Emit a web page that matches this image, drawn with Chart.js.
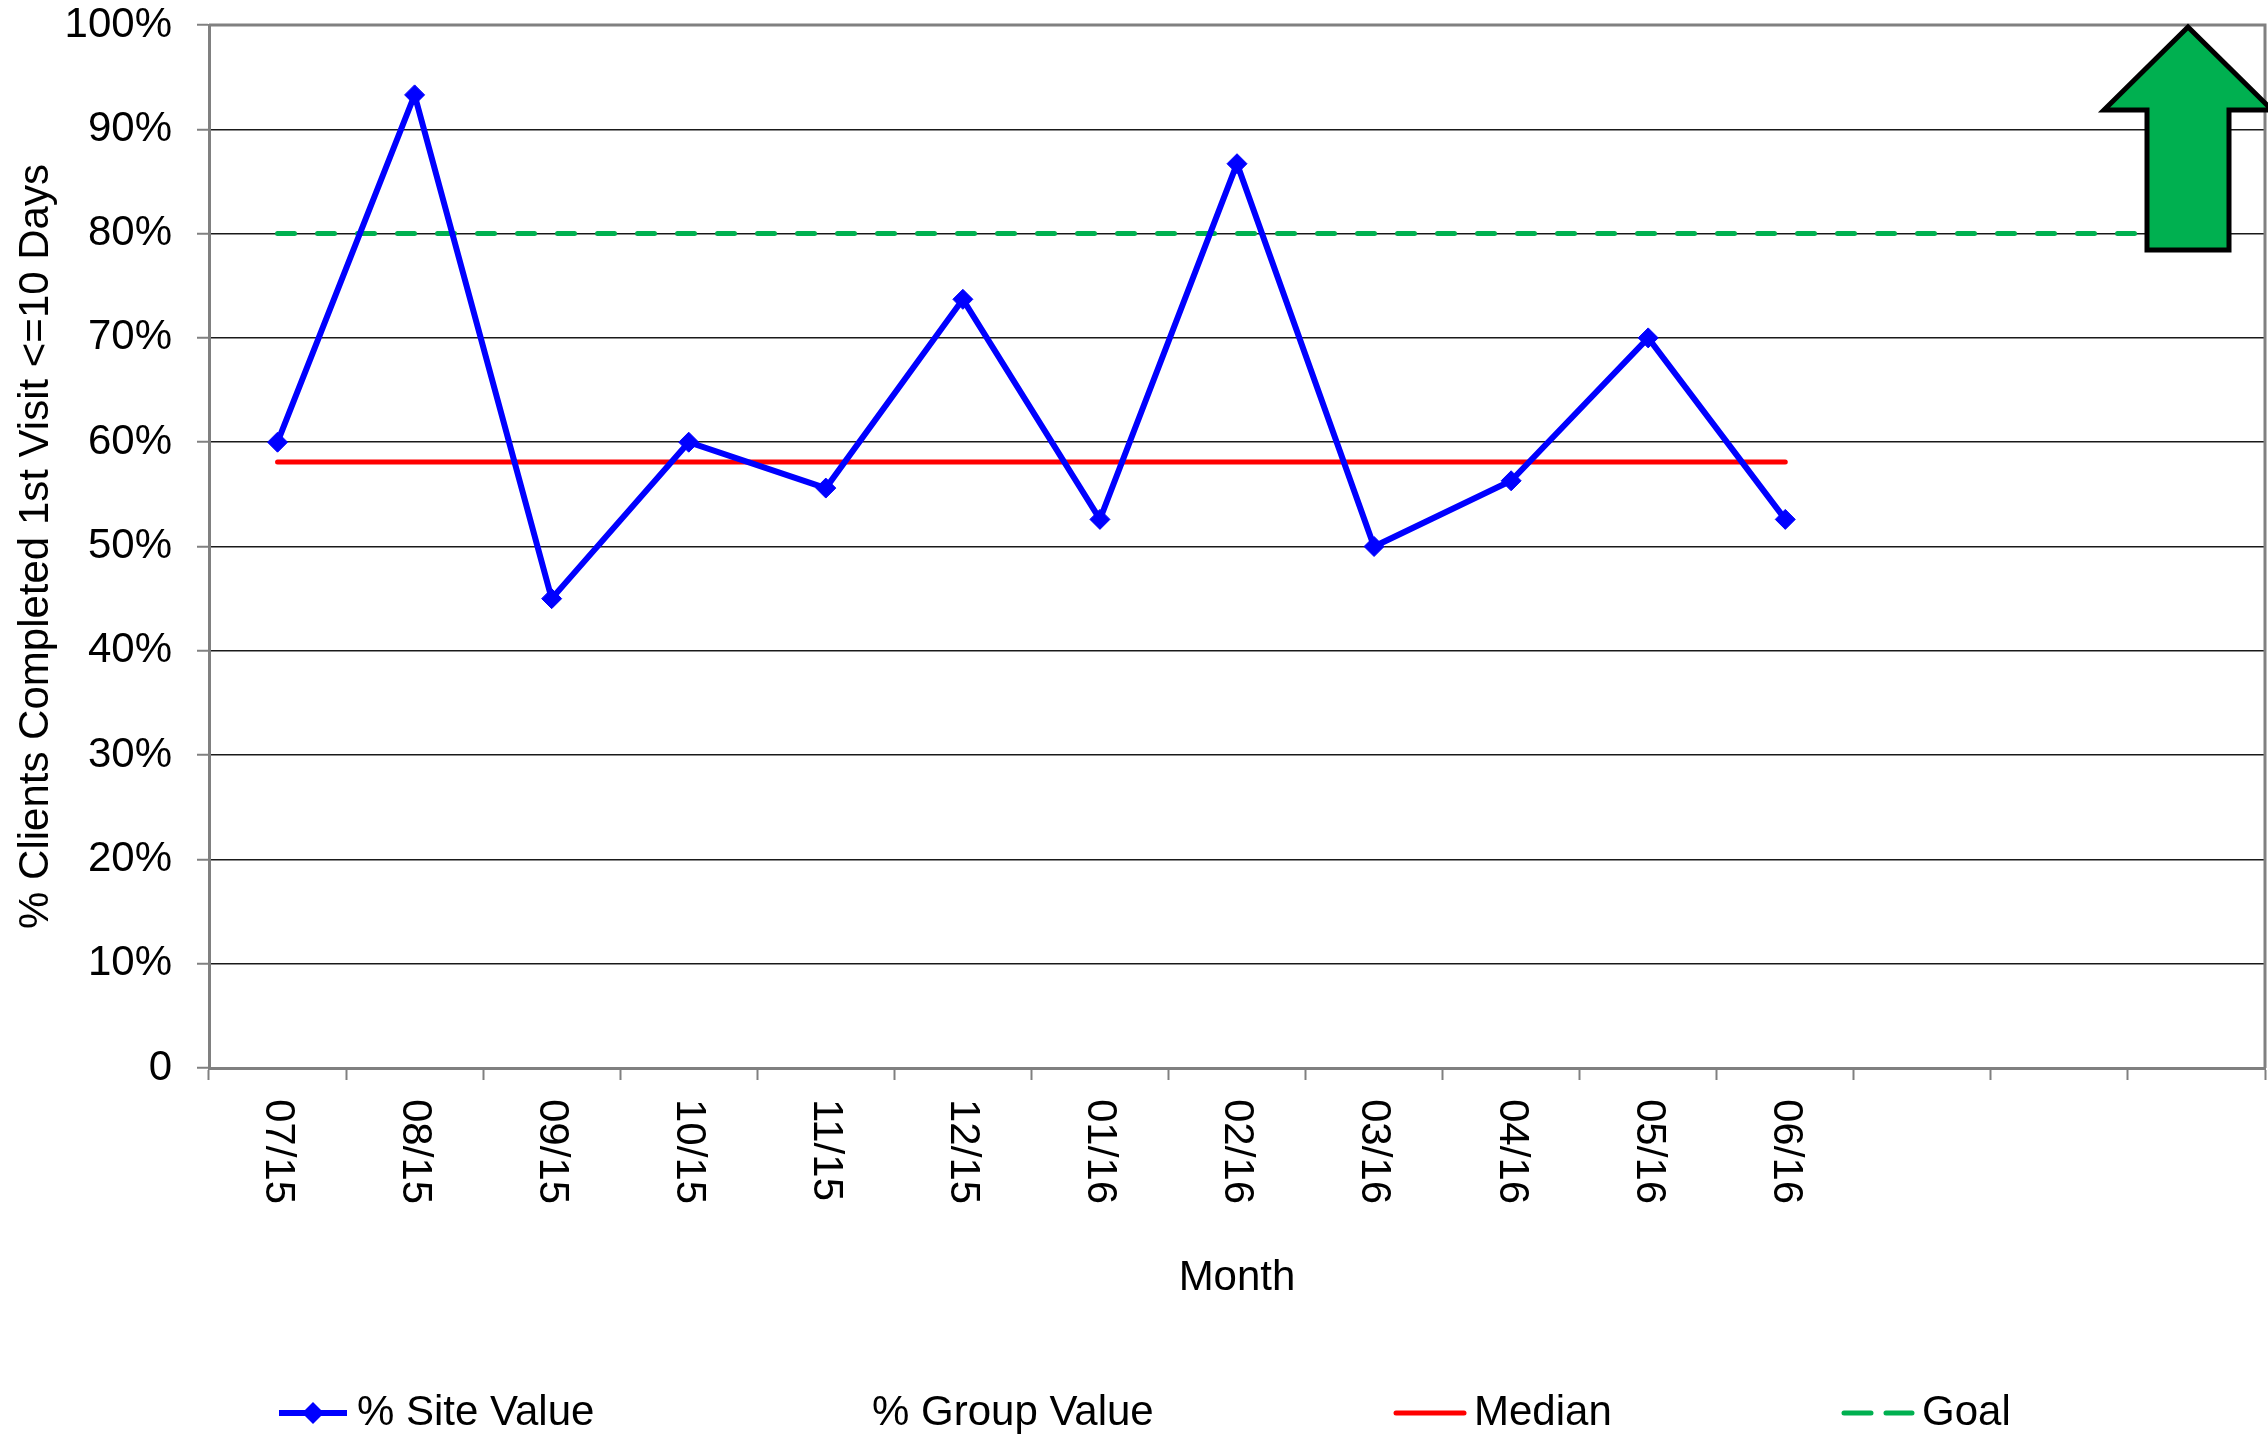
<!DOCTYPE html>
<html>
<head>
<meta charset="utf-8">
<script src="https://cdn.jsdelivr.net/npm/chart.js@4.4.0/dist/chart.umd.min.js"></script>
<style>
  html, body { margin: 0; padding: 0; background: #fff; }
  canvas { display: block; }
</style>
</head>
<body>
<canvas id="spcChart" width="2268" height="1437"></canvas>
<script>
// categories (last three slots are empty in the original)
const months = ['07/15', '08/15', '09/15', '10/15', '11/15', '12/15', '01/16', '02/16', '03/16', '04/16', '05/16', '06/16', '', '', ''];

// series values, in percent
const siteValues = [60, 93.3, 45, 60, 55.6, 73.7, 52.6, 86.7, 50, 56.3, 70, 52.6];
const groupValues = [];
const medianValues = [58.1, 58.1, 58.1, 58.1, 58.1, 58.1, 58.1, 58.1, 58.1, 58.1, 58.1, 58.1];
const goalValues = [80, 80, 80, 80, 80, 80, 80, 80, 80, 80, 80, 80, 80, 80, 80];

// y tick labels
const yTickLabels = ['0', '10%', '20%', '30%', '40%', '50%', '60%', '70%', '80%', '90%', '100%'];

const FONT = '"Liberation Sans", Arial, sans-serif';
const FSIZE = 42;

// extra drawing: frame, rotated month labels, legend, goal arrow
const decorations = {
    id: 'decorations',
    beforeDatasetsDraw(chart) {
        const { ctx, chartArea: a } = chart;
        ctx.save();
        ctx.strokeStyle = '#808080';
        ctx.lineWidth = 3;
        ctx.beginPath();
        ctx.moveTo(a.left, a.top);
        ctx.lineTo(a.right, a.top);
        ctx.lineTo(a.right, a.bottom);
        ctx.stroke();
        ctx.restore();
    },
    afterDraw(chart) {
        const { ctx, chartArea: a } = chart;
        const xScale = chart.scales.x;

        // month labels, reading top to bottom
        ctx.save();
        ctx.fillStyle = '#000';
        ctx.font = FSIZE + 'px ' + FONT;
        ctx.textAlign = 'left';
        ctx.textBaseline = 'middle';
        chart.data.labels.forEach((lbl, i) => {
            if (!lbl) return;
            ctx.save();
            ctx.translate(xScale.getPixelForValue(i), a.bottom + 31);
            ctx.rotate(Math.PI / 2);
            ctx.fillText(lbl, 0, 0);
            ctx.restore();
        });
        ctx.restore();

        // legend
        const legendY = 1413;
        const legendX = [279, 794, 1396, 1844];
        ctx.save();
        ctx.font = FSIZE + 'px ' + FONT;
        ctx.textBaseline = 'middle';
        chart.data.datasets.forEach((ds, i) => {
            const x0 = legendX[i];
            if (ds.borderColor !== 'transparent') {
                ctx.save();
                ctx.strokeStyle = ds.borderColor;
                ctx.lineWidth = ds.borderWidth;
                ctx.lineCap = ds.borderCapStyle || 'butt';
                ctx.setLineDash(ds.legendDash || []);
                ctx.beginPath();
                ctx.moveTo(x0, legendY);
                ctx.lineTo(x0 + 68, legendY);
                ctx.stroke();
                ctx.restore();
                if (ds.pointRadius > 0) {
                    const r = ds.pointRadius + 1;
                    ctx.fillStyle = ds.pointBackgroundColor;
                    ctx.beginPath();
                    ctx.moveTo(x0 + 34, legendY - r);
                    ctx.lineTo(x0 + 34 + r, legendY);
                    ctx.lineTo(x0 + 34, legendY + r);
                    ctx.lineTo(x0 + 34 - r, legendY);
                    ctx.closePath();
                    ctx.fill();
                }
            }
            ctx.fillStyle = '#000';
            ctx.fillText(ds.label, x0 + 78, legendY);
        });
        ctx.restore();

        // green "higher is better" arrow in the top right corner
        const cx = a.right - 77;
        const top = a.top + 2;
        ctx.save();
        ctx.fillStyle = '#00B050';
        ctx.strokeStyle = '#000';
        ctx.lineWidth = 5;
        ctx.lineJoin = 'miter';
        ctx.beginPath();
        ctx.moveTo(cx, top);
        ctx.lineTo(cx + 84, top + 83);
        ctx.lineTo(cx + 41, top + 83);
        ctx.lineTo(cx + 41, top + 223);
        ctx.lineTo(cx - 41, top + 223);
        ctx.lineTo(cx - 41, top + 83);
        ctx.lineTo(cx - 84, top + 83);
        ctx.closePath();
        ctx.fill();
        ctx.stroke();
        ctx.restore();
    }
};

const ctx = document.getElementById('spcChart').getContext('2d');
new Chart(ctx, {
    type: 'line',
    data: {
        labels: months,
        datasets: [
            {
                label: '% Site Value',
                data: siteValues,
                borderColor: '#0000FF',
                borderWidth: 6,
                pointStyle: 'rectRot',
                pointRadius: 10,
                pointBackgroundColor: '#0000FF',
                pointBorderColor: '#0000FF',
                pointBorderWidth: 1,
                tension: 0
            },
            {
                label: '% Group Value',
                data: groupValues,
                borderColor: 'transparent',
                pointRadius: 0
            },
            {
                label: 'Median',
                data: medianValues,
                borderColor: '#FF0000',
                borderWidth: 5,
                borderCapStyle: 'round',
                pointRadius: 0,
                tension: 0
            },
            {
                label: 'Goal',
                data: goalValues,
                borderColor: '#00B050',
                borderWidth: 5,
                borderDash: [17, 23],
                borderCapStyle: 'round',
                legendDash: [27, 15],
                pointRadius: 0,
                tension: 0
            }
        ]
    },
    options: {
        responsive: false,
        animation: false,
        devicePixelRatio: 1,
        layout: {
            autoPadding: false,
            padding: { top: 25, right: 3, bottom: 133, left: 0 }
        },
        plugins: {
            legend: { display: false },
            tooltip: { enabled: false }
        },
        scales: {
            x: {
                offset: true,
                grid: {
                    offset: true,
                    drawOnChartArea: false,
                    drawTicks: true,
                    tickLength: 12,
                    tickColor: '#808080',
                    tickWidth: 2
                },
                border: { color: '#808080', width: 3 },
                ticks: { display: false },
                title: {
                    display: true,
                    text: 'Month',
                    color: '#000',
                    font: { family: FONT, size: FSIZE },
                    padding: { top: 0, bottom: 0 }
                },
                afterFit: function(scale) {
                    scale.height = 236;
                    scale.paddingLeft = 0;
                    scale.paddingRight = 0;
                }
            },
            y: {
                min: 0,
                max: 100,
                grid: {
                    color: '#1a1a1a',
                    lineWidth: 1.5,
                    tickLength: 12,
                    tickColor: '#808080',
                    tickWidth: 2
                },
                border: { color: '#808080', width: 3 },
                ticks: {
                    stepSize: 10,
                    padding: 25,
                    color: '#000',
                    font: { family: FONT, size: FSIZE },
                    callback: function(value, index) {
                        return yTickLabels[index];
                    }
                },
                title: {
                    display: true,
                    text: '% Clients Completed 1st Visit <=10 Days',
                    color: '#000',
                    font: { family: FONT, size: FSIZE },
                    padding: { top: 11, bottom: 0 }
                },
                afterFit: function(scale) {
                    scale.width = 209;
                    scale.paddingTop = 0;
                    scale.paddingBottom = 0;
                }
            }
        }
    },
    plugins: [decorations]
});
</script>
</body>
</html>
